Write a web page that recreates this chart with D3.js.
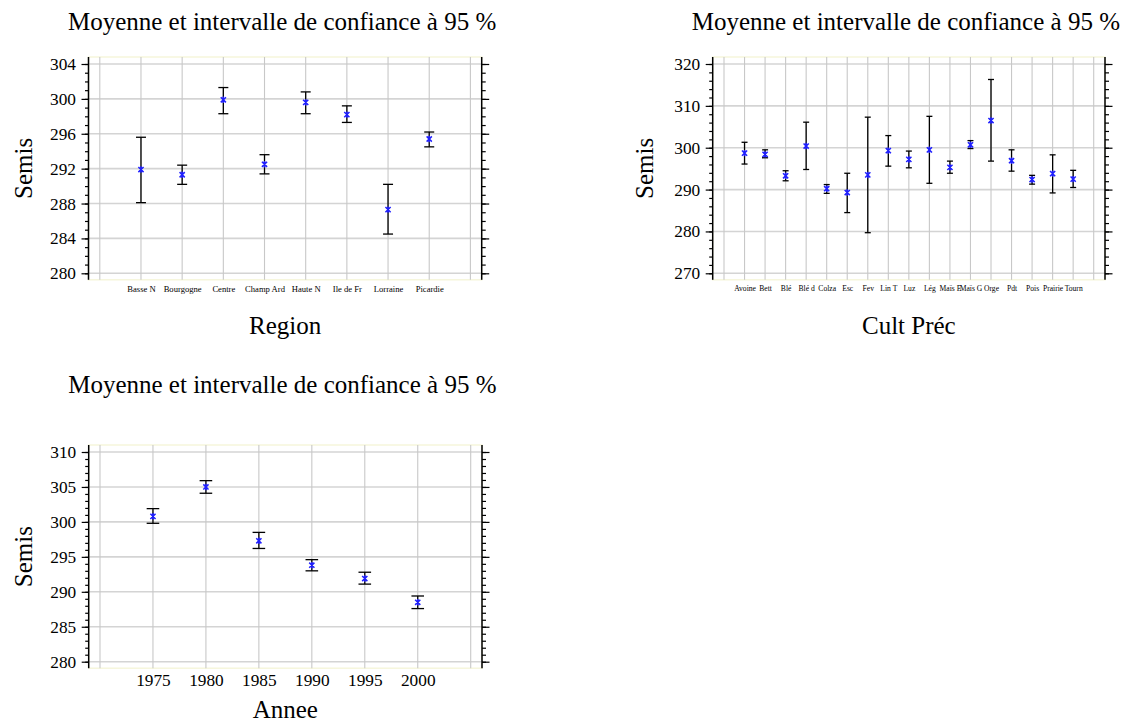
<!DOCTYPE html>
<html><head><meta charset="utf-8">
<script src="https://cdn.jsdelivr.net/npm/d3@7"></script>
<style>body{margin:0;background:#fff}svg{display:block}text{font-family:"Liberation Serif","Times New Roman",serif;fill:#000}</style>
</head><body><svg id="c" width="1122" height="724"></svg>
<script>
const titleText = "Moyenne et intervalle de confiance à 95 %";
const yLabel = "Semis";

const regions = ["Basse N","Bourgogne","Centre","Champ Ard","Haute N","Ile de Fr","Lorraine","Picardie"];
const regionMean = [291.9, 291.3, 299.9, 292.5, 299.6, 298.2, 287.3, 295.4];
const regionLow  = [288.1, 290.2, 298.3, 291.4, 298.3, 297.3, 284.5, 294.5];
const regionHigh = [295.6, 292.4, 301.3, 293.6, 300.8, 299.2, 290.2, 296.2];
const regionTicks = [280, 284, 288, 292, 296, 300, 304];

const cultures = ["Avoine","Bett","Blé","Blé d","Colza","Esc","Fev","Lin T","Luz","Lég","Maïs E","Maïs G","Orge","Pdt","Pois","Prairie","Tourn"];
const cultMean = [298.7, 298.4, 293.3, 300.4, 290.2, 289.3, 293.5, 299.3, 297.2, 299.5, 295.3, 300.7, 306.5, 296.9, 292.4, 293.8, 292.5];
const cultLow  = [296.1, 297.6, 292.1, 294.8, 289.1, 284.5, 279.7, 295.6, 295.2, 291.5, 293.9, 299.8, 296.8, 294.4, 291.3, 289.2, 290.5];
const cultHigh = [301.3, 299.5, 294.5, 306.1, 291.2, 293.9, 307.3, 302.9, 299.2, 307.5, 296.8, 301.7, 316.3, 299.5, 293.4, 298.3, 294.6];
const cultTicks = [270, 280, 290, 300, 310, 320];

const years = [1975, 1980, 1985, 1990, 1995, 2000];
const yearMean = [300.8, 305.0, 297.3, 293.8, 291.9, 288.5];
const yearLow  = [299.8, 304.1, 296.2, 293.0, 291.1, 287.6];
const yearHigh = [301.9, 305.9, 298.5, 294.6, 292.8, 289.4];
const yearTicks = [280, 285, 290, 295, 300, 305, 310];
const yearGrid = [1970, 1975, 1980, 1985, 1990, 1995, 2000, 2005];

const svg = d3.select("#c");

function panel(o) {
  const g = svg.append("g");
  const pad = 11.3;
  const x = d3.scaleLinear().domain(o.xDomain).range([o.left + pad, o.right - pad]);
  const y = d3.scaleLinear().domain(o.yDomain).range([o.yBottom, o.yTop]);
  const top = o.yTop - 7, bottom = o.yBottom + 6.5;
  g.append("rect").attr("x", o.left).attr("y", top).attr("width", o.right - o.left).attr("height", bottom - top)
    .attr("fill", "#fff").attr("stroke", "#f6f6dc").attr("stroke-width", 1.5);
  g.append("g").selectAll("line").data(o.yTicks).join("line")
    .attr("x1", o.left).attr("x2", o.right).attr("y1", d => y(d)).attr("y2", d => y(d))
    .attr("stroke", "#d4d4d4").attr("stroke-width", 1.6);
  g.append("g").selectAll("line").data(o.xGrid).join("line")
    .attr("x1", d => x(d)).attr("x2", d => x(d)).attr("y1", top).attr("y2", bottom)
    .attr("stroke", "#c8c8c8").attr("stroke-width", 1.1);
  const minor = d3.range(o.yDomain[0], o.yDomain[1] + 1e-9, o.minorStep);
  const axL = g.append("g").attr("transform", `translate(${o.left},0)`)
    .call(d3.axisLeft(y).tickValues(minor).tickSize(3.5).tickFormat(""));
  axL.select(".domain").remove();
  const axL2 = g.append("g").attr("transform", `translate(${o.left},0)`)
    .call(d3.axisLeft(y).tickValues(o.yTicks).tickSize(7).tickPadding(5.5));
  axL2.select(".domain").remove();
  axL2.selectAll("text").style("font-size", "17.3px").style("font-family", "Liberation Serif").attr("fill", "#111");
  const axR = g.append("g").attr("transform", `translate(${o.right},0)`)
    .call(d3.axisRight(y).tickValues(minor).tickSize(4).tickFormat(""));
  axR.select(".domain").remove();
  const axR2 = g.append("g").attr("transform", `translate(${o.right},0)`)
    .call(d3.axisRight(y).tickValues(o.yTicks).tickSize(7.5).tickFormat(""));
  axR2.select(".domain").remove();
  g.selectAll(".tick line").attr("stroke", "#000").attr("stroke-width", 1.2);
  [o.left, o.right].forEach(xx => g.append("line").attr("x1", xx).attr("x2", xx).attr("y1", top).attr("y2", bottom)
    .attr("stroke", "#000").attr("stroke-width", 1.5));
  const axB = g.append("g").attr("transform", `translate(0,${bottom})`)
    .call(d3.axisBottom(x).tickValues(o.xLabelVals).tickFormat(o.xFmt).tickSize(0).tickPadding(o.xLabPad));
  axB.select(".domain").remove();
  axB.selectAll("text").style("font-size", o.xLabSize + "px").style("font-family", "Liberation Serif").attr("fill", "#222");
  const eb = g.append("g");
  o.xs.forEach((xv, i) => {
    const cx = x(xv);
    eb.append("line").attr("x1", cx).attr("x2", cx).attr("y1", y(o.low[i])).attr("y2", y(o.high[i]))
      .attr("stroke", "#000").attr("stroke-width", 1.3);
    [o.low[i], o.high[i]].forEach(v => eb.append("line").attr("x1", cx - o.cap).attr("x2", cx + o.cap)
      .attr("y1", y(v)).attr("y2", y(v)).attr("stroke", "#000").attr("stroke-width", 1.3));
  });
  const s = 2.6;
  g.append("g").selectAll("path").data(o.xs).join("path")
    .attr("d", (d, i) => {
      const cx = x(d), cy = y(o.mean[i]);
      return `M${cx - s},${cy - s}L${cx + s},${cy + s}M${cx - s},${cy + s}L${cx + s},${cy - s}M${cx},${cy - s - 0.6}L${cx},${cy + s + 0.6}`;
    })
    .attr("stroke", "#1f1fff").attr("stroke-width", 1.5).attr("fill", "none");
  const cxm = (o.left + o.right) / 2;
  svg.append("text").attr("x", cxm - 3).attr("y", o.titleY).attr("text-anchor", "middle")
    .style("font-size", "25px").text(titleText);
  svg.append("text").attr("x", cxm).attr("y", o.xTitleY).attr("text-anchor", "middle")
    .style("font-size", "25px").text(o.xTitle);
  svg.append("text").attr("transform", `translate(${o.yTitleX},${(top + bottom) / 2}) rotate(-90)`)
    .attr("text-anchor", "middle").style("font-size", "25px").text(yLabel);
}

panel({
  left: 88.5, right: 481.7, yTop: 64, yBottom: 273.3,
  xDomain: [0, regions.length + 1], yDomain: [280, 304], yTicks: regionTicks, minorStep: 1,
  xGrid: d3.range(0, regions.length + 2), xs: regions.map((d, i) => i + 1),
  xLabelVals: regions.map((d, i) => i + 1), xFmt: (d) => regions[d - 1], xLabSize: 8.6, xLabPad: 6,
  mean: regionMean, low: regionLow, high: regionHigh, cap: 5,
  titleY: 30, xTitle: "Region", xTitleY: 334, yTitleX: 31.5
});

panel({
  left: 712.7, right: 1105, yTop: 64, yBottom: 273.3,
  xDomain: [0, cultures.length + 1], yDomain: [270, 320], yTicks: cultTicks, minorStep: 2,
  xGrid: d3.range(0, cultures.length + 2), xs: cultures.map((d, i) => i + 1),
  xLabelVals: cultures.map((d, i) => i + 1), xFmt: (d) => cultures[d - 1], xLabSize: 7.6, xLabPad: 6,
  mean: cultMean, low: cultLow, high: cultHigh, cap: 3,
  titleY: 30, xTitle: "Cult Préc", xTitleY: 334, yTitleX: 653.3
});

panel({
  left: 88.7, right: 482, yTop: 452, yBottom: 661.7,
  xDomain: [1970, 2005], yDomain: [280, 310], yTicks: yearTicks, minorStep: 1,
  xGrid: yearGrid, xs: years,
  xLabelVals: years, xFmt: d3.format("d"), xLabSize: 17.3, xLabPad: 6,
  mean: yearMean, low: yearLow, high: yearHigh, cap: 6.3,
  titleY: 393, xTitle: "Annee", xTitleY: 718, yTitleX: 31.5
});
</script></body></html>
